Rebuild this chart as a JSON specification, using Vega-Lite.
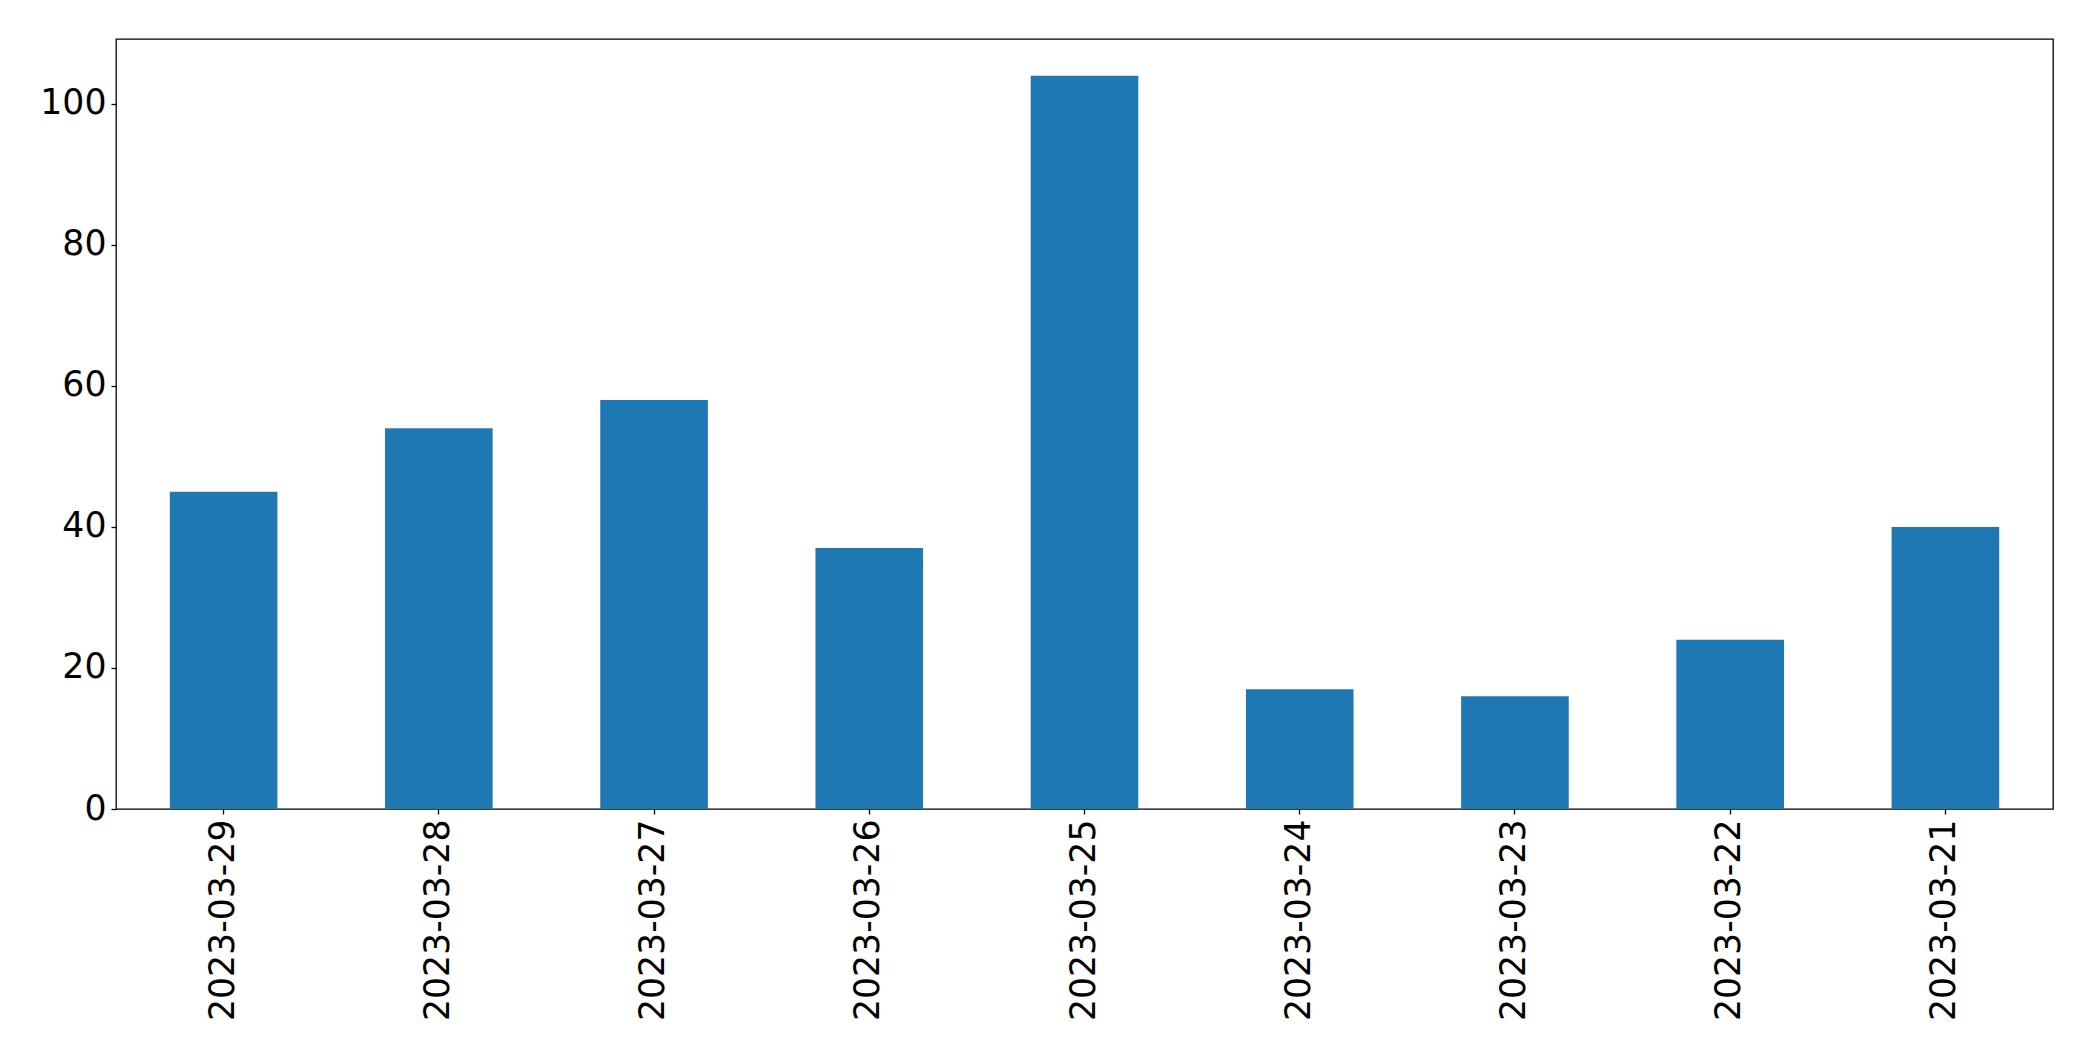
{
  "$schema": "https://vega.github.io/schema/vega-lite/v6.json",
  "width": 1937,
  "height": 770,
  "autosize": {"type": "none"},
  "padding": {"left": 116, "top": 39, "right": 40, "bottom": 252},
  "background": "white",
  "config": {
    "view": {"stroke": "black", "strokeWidth": 1.3},
    "font": "DejaVu Sans"
  },
  "data": {
    "values": [
      {"date": "2023-03-29", "count": 45},
      {"date": "2023-03-28", "count": 54},
      {"date": "2023-03-27", "count": 58},
      {"date": "2023-03-26", "count": 37},
      {"date": "2023-03-25", "count": 104},
      {"date": "2023-03-24", "count": 17},
      {"date": "2023-03-23", "count": 16},
      {"date": "2023-03-22", "count": 24},
      {"date": "2023-03-21", "count": 40}
    ]
  },
  "mark": {"type": "bar", "color": "#1f77b4"},
  "encoding": {
    "x": {
      "field": "date",
      "type": "nominal",
      "sort": null,
      "scale": {"paddingInner": 0.5, "paddingOuter": 0.25},
      "axis": {
        "title": null,
        "labelAngle": -90,
        "labelLimit": 0,
        "labelFont": "DejaVu Sans",
        "labelFontSize": 34.7,
        "labelColor": "black",
        "labelPadding": 5,
        "tickColor": "black",
        "tickSize": 5,
        "tickWidth": 1.3,
        "domain": false,
        "grid": false
      }
    },
    "y": {
      "field": "count",
      "type": "quantitative",
      "scale": {"domain": [0, 109.2], "nice": false},
      "axis": {
        "title": null,
        "values": [0, 20, 40, 60, 80, 100],
        "labelFont": "DejaVu Sans",
        "labelFontSize": 34.7,
        "labelColor": "black",
        "labelPadding": 5,
        "tickColor": "black",
        "tickSize": 5,
        "tickWidth": 1.3,
        "domain": false,
        "grid": false
      }
    }
  }
}
